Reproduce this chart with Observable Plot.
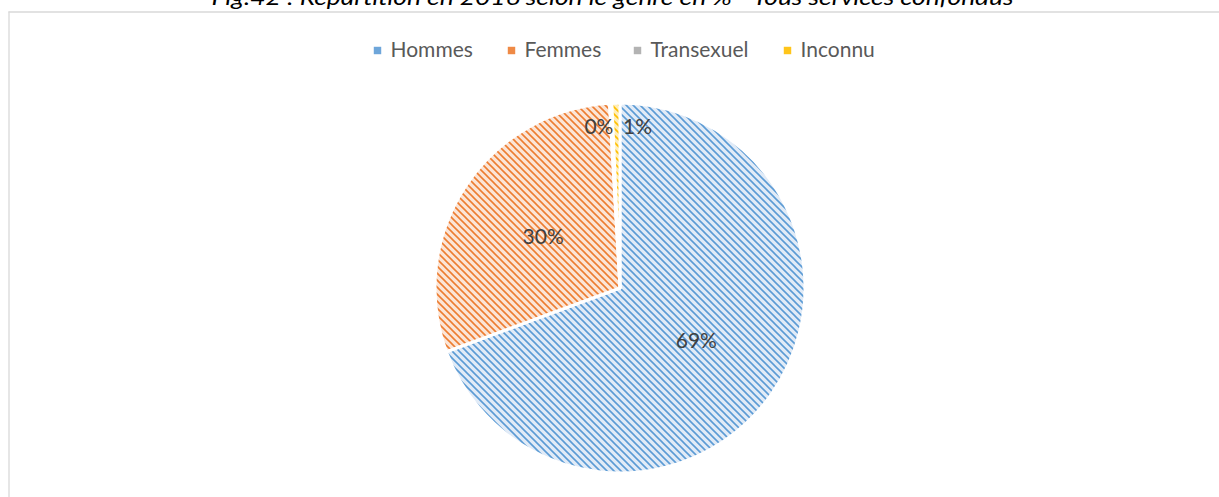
<!DOCTYPE html>
<html><head><meta charset="utf-8">
<script src="https://cdn.jsdelivr.net/npm/d3@7"></script>
<script src="https://cdn.jsdelivr.net/npm/@observablehq/plot@0.6"></script>
<style>html,body{margin:0;padding:0;background:#fff;overflow:hidden} svg{display:block}</style>
</head><body><div id="chart"></div>
<script>
// ---- data ----
const title = "Fig.42 : Répartition en 2016 selon le genre en % - Tous services confondus";
const categories = ["Hommes", "Femmes", "Transexuel", "Inconnu"];
const shares = [69.4, 29.7, 0.2, 0.7];
const valueLabels = ["69%", "30%", "0%", "1%"];
const stripeColors = ["#5b9bd5", "#ed7d31", "#a5a5a5", "#ffc000"];
const baseColors = ["#e1ebf7", "#fce5d6", "#ececec", "#ffeeb8"];
const markerColors = ["#6ea6da", "#ef8a45", "#b3b3b3", "#ffc51a"];

// ---- layout ----
const W = 1219, H = 497;
const CX = 620, CY = 288, R = 185;
const legendMarkerX = [377, 511, 637, 787];
const legendY = 50;

const rows = categories.map((c, i) => ({
  category: c, share: shares[i], label: valueLabels[i], idx: i,
  pattern: `url(#hatch${i})`, marker: markerColors[i]
}));
const arcs = d3.pie().value(d => d.share).sort(null)(rows);
arcs.forEach(a => { a.data.mid = (a.startAngle + a.endAngle) / 2; });
const big = arcs.filter(a => a.data.share >= 5).map(a => a.data);
const small = arcs.filter(a => a.data.share < 5).map(a => a.data);

function patternDefs(g) {
  const defs = g.append("defs");
  const P = 7;
  rows.forEach((d, i) => {
    const p = defs.append("pattern").attr("id", `hatch${i}`)
      .attr("patternUnits", "userSpaceOnUse").attr("width", P).attr("height", P);
    p.append("rect").attr("width", P).attr("height", P).attr("fill", baseColors[i]);
    p.append("path").attr("d", `M-2,-2L${P+2},${P+2}M-2,${P-2}L2,${P+2}M${P-2},-2L${P+2},2`)
      .attr("stroke", stripeColors[i]).attr("stroke-width", 1.6).attr("fill", "none");
  });
}

function pieMark(index, scales) {
  const g = d3.create("svg:g");
  patternDefs(g);
  const cx = scales.x(CX), cy = scales.y(CY);
  const r = scales.x(CX + R) - cx;
  const arc = d3.arc().innerRadius(0).outerRadius(r);
  g.append("g").attr("transform", `translate(${cx},${cy})`)
    .selectAll("path").data(arcs).join("path")
    .attr("d", arc)
    .attr("fill", d => d.data.pattern)
    .attr("stroke", "#fff").attr("stroke-width", 3).attr("stroke-linejoin", "round");
  return g.node();
}

const bigX = d => CX + 0.5 * R * Math.sin(d.mid);
const bigY = d => CY - 0.5 * R * Math.cos(d.mid);
const smallX = d => CX + 0.87 * R * Math.sin(d.mid);
const smallY = d => CY - 0.87 * R * Math.cos(d.mid);

const plot = Plot.plot({
  width: W, height: H, margin: 0,
  x: {type: "linear", domain: [0, W], range: [0, W], axis: null},
  y: {type: "linear", domain: [0, H], range: [0, H], axis: null},
  color: {type: "identity"},
  style: {fontFamily: "Lato, 'Open Sans', sans-serif", background: "#fff"},
  marks: [
    Plot.ruleY([11.5], {x1: 8.5, x2: W, stroke: "#d9d9d9", strokeWidth: 1.3}),
    Plot.ruleX([8.5], {y1: 11.5, y2: H, stroke: "#d9d9d9", strokeWidth: 1.3}),
    pieMark,
    Plot.text(big, {x: bigX, y: bigY, text: "label", fontSize: 21, fill: "#404040", lineAnchor: "middle"}),
    Plot.text(small.slice(0, 1), {x: smallX, y: smallY, text: "label", fontSize: 21, fill: "#404040", textAnchor: "end", dx: 1, lineAnchor: "middle"}),
    Plot.text(small.slice(1), {x: smallX, y: smallY, text: "label", fontSize: 21, fill: "#404040", textAnchor: "start", dx: 6, lineAnchor: "middle"}),
    Plot.dot(rows, {x: d => legendMarkerX[d.idx], y: legendY, symbol: "square", r: 4.2, fill: "marker", stroke: null}),
    Plot.text(rows, {x: d => legendMarkerX[d.idx] + 13, y: legendY, text: "category", textAnchor: "start", fontSize: 21, fill: "#595959", lineAnchor: "middle"}),
    Plot.text([title], {x: 612, y: -3, text: d => d, fontSize: 22, fontStyle: "italic", fill: "#000", textAnchor: "middle", lineAnchor: "middle", className: "title-mark"})
  ]
});
document.getElementById("chart").appendChild(plot);
d3.select(plot).selectAll(".title-mark text").attr("textLength", 802).attr("lengthAdjust", "spacingAndGlyphs");
</script>
</body></html>
